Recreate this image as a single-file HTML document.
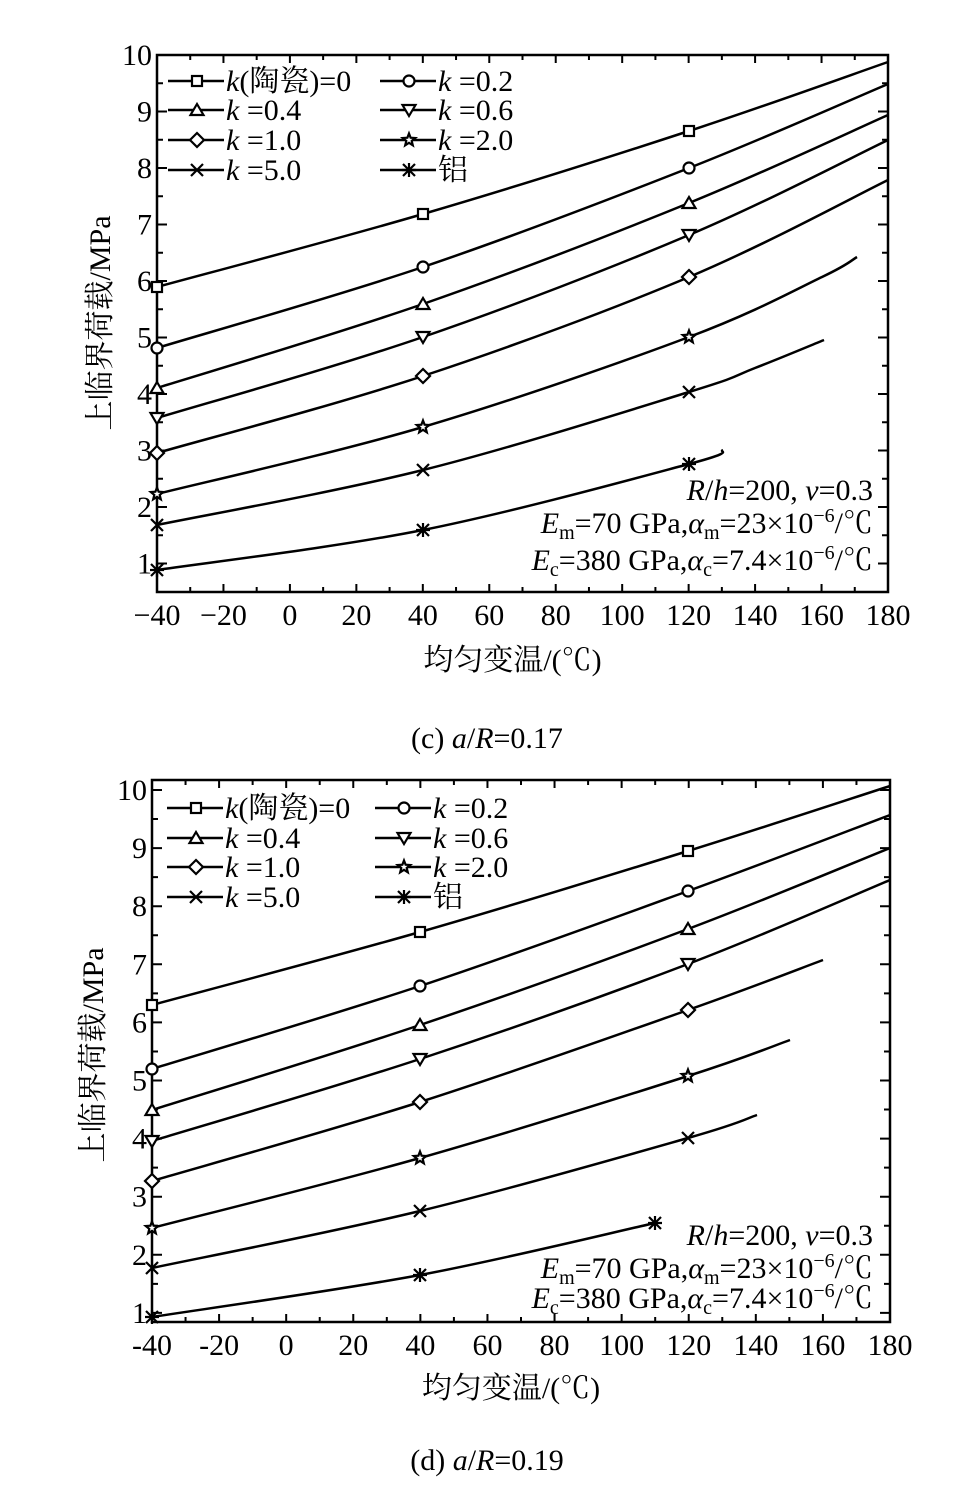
<!DOCTYPE html>
<html><head><meta charset="utf-8"><style>
body{margin:0;background:#fff}
svg{display:block}
text{font-family:"Liberation Serif","Noto Serif CJK SC",serif;fill:#000}
</style></head><body>
<svg id="s" width="974" height="1500" xmlns="http://www.w3.org/2000/svg"></svg>
<script>
const S=document.getElementById('s');let h='';
function cr(p){let d='M'+p[0][0]+','+p[0][1];for(let i=0;i<p.length-1;i++){const a=p[i-1]||p[i],b=p[i],c=p[i+1],e=p[i+2]||c;
d+=' C'+(b[0]+(c[0]-a[0])/6)+','+(b[1]+(c[1]-a[1])/6)+' '+(c[0]-(e[0]-b[0])/6)+','+(c[1]-(e[1]-b[1])/6)+' '+c[0]+','+c[1];}return d;}
function mk(t,x,y){const r=6;let s='<g stroke="#000" stroke-width="2.2" fill="#fff">';
if(t==0)s+=`<rect x="${x-5}" y="${y-5}" width="10" height="10"/>`;
if(t==1)s+=`<circle cx="${x}" cy="${y}" r="5.5"/>`;
if(t==2)s+=`<path d="M${x},${y-6} L${x+6.5},${y+5} L${x-6.5},${y+5}Z"/>`;
if(t==3)s+=`<path d="M${x},${y+6} L${x+6.5},${y-5} L${x-6.5},${y-5}Z"/>`;
if(t==4)s+=`<path d="M${x},${y-7} L${x+7},${y} L${x},${y+7} L${x-7},${y}Z"/>`;
if(t==5){let q='';for(let i=0;i<10;i++){const a=-Math.PI/2+i*Math.PI/5,rr=i%2?2.8:6.5;q+=(i?'L':'M')+(x+rr*Math.cos(a)).toFixed(1)+','+(y+rr*Math.sin(a)).toFixed(1);}s+=`<path d="${q}Z"/>`;}
if(t==6)s+=`<path d="M${x-r},${y-r}L${x+r},${y+r}M${x-r},${y+r}L${x+r},${y-r}"/>`;
if(t==7)s+=`<path d="M${x-r},${y-r}L${x+r},${y+r}M${x-r},${y+r}L${x+r},${y-r}M${x},${y-7}L${x},${y+7}M${x-7},${y}L${x+7},${y}"/>`;
return s+'</g>';}
function chart(L,R,T,B,y10,dy,xs,curves,leg,legx,ann,xl,yl,cap,xneg){
 h+=`<rect x="${L}" y="${T}" width="${R-L}" height="${B-T}" fill="none" stroke="#000" stroke-width="2.5"/>`;
 const px=v=>L+(v+40)*(R-L)/220;
 for(let v=-40;v<=180;v+=10){const x=px(v),l=v%20==0?8:5;h+=`<path d="M${x},${B}v${-l}M${x},${T}v${l}" stroke="#000" stroke-width="2"/>`;
  if(v%20==0)h+=`<text x="${x}" y="${B+33}" font-size="30" text-anchor="middle">${v<0?xneg+Math.abs(v):v}</text>`;}
 for(let v=0.5;v<=10;v+=0.5){const y=y10+(10-v)*dy;if(y>B-1)continue;const l=(v%1==0)?10:6;h+=`<path d="M${L},${y}h${l}M${R},${y}h${-l}" stroke="#000" stroke-width="2"/>`;
  if(v%1==0)h+=`<text x="${L-5}" y="${y+10}" font-size="30" text-anchor="end">${v}</text>`;}
 curves.forEach((c,i)=>{h+=`<path d="${cr(c)}" fill="none" stroke="#000" stroke-width="2.5"/>`;
  c.forEach(p=>{if([L,px(40),px(120)].some(v=>Math.abs(v-p[0])<3))h+=mk(i,p[0],p[1]);});});
 const labs=['<tspan font-style="italic">k</tspan>(陶瓷)=0','<tspan font-style="italic">k</tspan> =0.2','<tspan font-style="italic">k</tspan> =0.4','<tspan font-style="italic">k</tspan> =0.6','<tspan font-style="italic">k</tspan> =1.0','<tspan font-style="italic">k</tspan> =2.0','<tspan font-style="italic">k</tspan> =5.0','铝'];
 labs.forEach((t,i)=>{const c=i%2,y=leg[Math.floor(i/2)],x0=legx[c];h+=`<path d="M${x0},${y}h56" stroke="#000" stroke-width="2.5"/>`+mk(i,x0+29,y)+`<text x="${x0+58}" y="${y+10}" font-size="30">${t}</text>`;});
 ann.forEach((a,i)=>h+=`<text x="873" y="${a[0]}" font-size="30" text-anchor="end">${a[1]}</text>`);
 h+=`<text x="${(L+R)/2-10}" y="${xl}" font-size="30" text-anchor="middle">均匀变温/(℃)</text>`;
 h+=`<text transform="translate(${yl[0]},${yl[1]}) rotate(-90)" font-size="30" text-anchor="middle">上临界荷载/MPa</text>`;
 h+=`<text x="487" y="${cap[0]}" font-size="30" text-anchor="middle">${cap[1]}</text>`;
}
const A=[ '<tspan font-style="italic">R</tspan>/<tspan font-style="italic">h</tspan>=200, <tspan font-style="italic">ν</tspan>=0.3',
 '<tspan font-style="italic">E</tspan><tspan font-size="20" dy="6">m</tspan><tspan dy="-6">=70 GPa,</tspan><tspan font-style="italic">α</tspan><tspan font-size="20" dy="6">m</tspan><tspan dy="-6">=23×10</tspan><tspan font-size="20" dy="-11">−6</tspan><tspan dy="11">/℃</tspan>',
 '<tspan font-style="italic">E</tspan><tspan font-size="20" dy="6">c</tspan><tspan dy="-6">=380 GPa,</tspan><tspan font-style="italic">α</tspan><tspan font-size="20" dy="6">c</tspan><tspan dy="-6">=7.4×10</tspan><tspan font-size="20" dy="-11">−6</tspan><tspan dy="11">/℃</tspan>'];
chart(157,888,55,592,55,56.5,0,[
[[157,287],[423,214],[689,131],[888,62]],
[[157,348],[423,267],[689,168],[888,84]],
[[157,388],[423,304],[689,203],[888,115]],
[[157,418],[423,337],[689,235],[888,140]],
[[157,453],[423,376],[689,277],[888,180]],
[[157,494],[423,427],[689,337],[822,277],[857,257]],
[[157,525],[423,470],[689,392],[755,368],[824,340]],
[[157,570],[423,530],[689,464],[723,450]]],
[81,110,140,170],[168,380],[[500,A[0]],[533,A[1]],[570,A[2]]],670,[110,323],[748,'(c) <tspan font-style="italic">a</tspan>/<tspan font-style="italic">R</tspan>=0.17'],'−');
chart(152,890,780,1322,790,58.1,0,[
[[152,1005],[420,932],[688,851],[890,786]],
[[152,1069],[420,986],[688,891],[890,815]],
[[152,1110],[420,1025],[688,929],[890,848]],
[[152,1141],[420,1059],[688,964],[890,880]],
[[152,1181],[420,1102],[688,1010],[823,960]],
[[152,1228],[420,1158],[688,1076],[790,1040]],
[[152,1268],[420,1211],[688,1138],[757,1115]],
[[152,1317],[420,1275],[655,1223]]],
[808,838,867,897],[167,375],[[1245,A[0]],[1278,A[1]],[1308,A[2]]],1398,[103,1055],[1470,'(d) <tspan font-style="italic">a</tspan>/<tspan font-style="italic">R</tspan>=0.19'],'-');
h+=mk(7,655,1223);
S.innerHTML=h;
</script>
</body></html>
